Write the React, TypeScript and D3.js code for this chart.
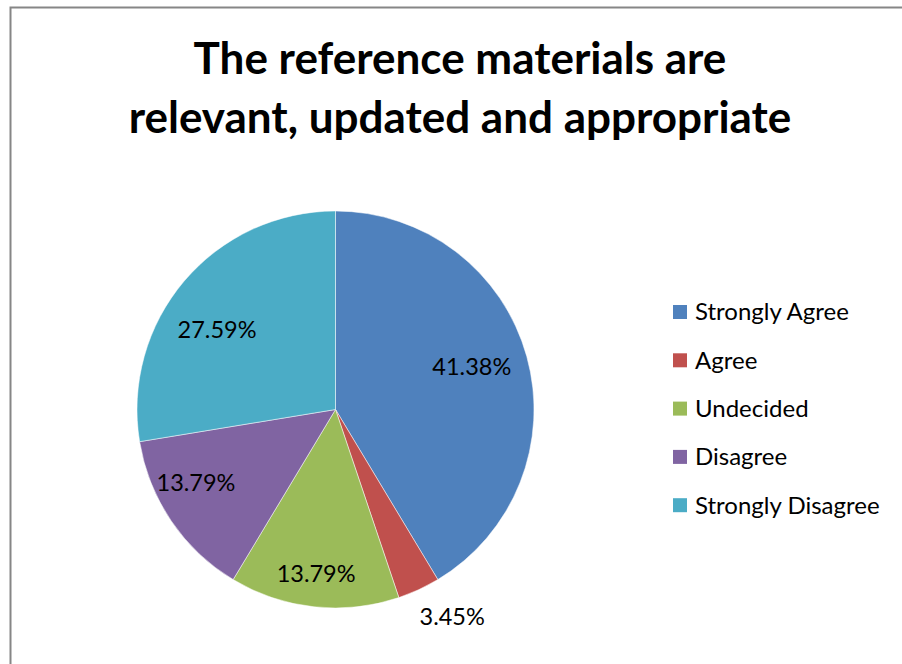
import { useEffect, useRef } from 'react';
import * as d3 from 'd3';

const categories = ['Strongly Agree', 'Agree', 'Undecided', 'Disagree', 'Strongly Disagree'];
const values = [41.38, 3.45, 13.79, 13.79, 27.59];
const colors = ['#4F81BD', '#C0504D', '#9BBB59', '#8064A2', '#4BACC6'];
const titleLines = ['The reference materials are', 'relevant, updated and appropriate'];

// Excel "best fit" label placement: distance as a share of the radius, and a small angle nudge (degrees)
const labelRadiusRatio = [0.72, 1.2, 0.835, 0.795, 0.72];
const labelAngleNudge = [-2, -4.5, 0.5, 6.3, -6.3];

const FONT = 'Lato, "Open Sans", sans-serif';

export default function App() {
  const ref = useRef<SVGSVGElement>(null);

  useEffect(() => {
    if (!ref.current) return;
    const svg = d3.select(ref.current);
    svg.selectAll('*').remove();

    const W = 902;
    const H = 664;
    const cx = 335.5;
    const cy = 409.5;
    const R = 198.5;

    svg.attr('width', W).attr('height', H).attr('viewBox', `0 0 ${W} ${H}`);

    svg.append('rect').attr('width', W).attr('height', H).attr('fill', '#fff');

    // chart frame
    svg.append('path')
      .attr('d', `M10.5,${H + 2}V7.5H${W + 2}`)
      .attr('fill', 'none')
      .attr('stroke', '#868686')
      .attr('stroke-width', 2);

    // title
    svg.append('g')
      .selectAll('text')
      .data(titleLines)
      .join('text')
      .attr('x', 460)
      .attr('y', (_, i) => 74 + i * 59)
      .attr('text-anchor', 'middle')
      .attr('font-family', FONT)
      .attr('font-weight', 'bold')
      .attr('font-size', 44)
      .attr('fill', '#000')
      .text((d) => d);

    const pie = d3.pie<number>().sort(null).value((d) => d);
    const arcs = pie(values);
    const arc = d3.arc<d3.PieArcDatum<number>>().innerRadius(0).outerRadius(R);

    const g = svg.append('g').attr('transform', `translate(${cx},${cy})`);

    g.selectAll('path')
      .data(arcs)
      .join('path')
      .attr('d', arc)
      .attr('fill', (_, i) => colors[i])
      .attr('stroke', '#fff')
      .attr('stroke-width', 0.5);

    g.selectAll('text')
      .data(arcs)
      .join('text')
      .attr('transform', (d, i) => {
        const a = (d.startAngle + d.endAngle) / 2 + (labelAngleNudge[i] * Math.PI) / 180;
        const r = R * labelRadiusRatio[i];
        return `translate(${r * Math.sin(a)},${-r * Math.cos(a)})`;
      })
      .attr('dy', '0.35em')
      .attr('text-anchor', 'middle')
      .attr('font-family', FONT)
      .attr('font-size', 23.5)
      .attr('fill', '#000')
      .text((d) => `${d.data.toFixed(2)}%`);

    // legend
    const legend = svg.append('g').attr('transform', 'translate(673,312)');
    const rows = legend.selectAll('g')
      .data(categories)
      .join('g')
      .attr('transform', (_, i) => `translate(0,${i * 48.3})`);

    rows.append('rect')
      .attr('x', 0)
      .attr('y', -7)
      .attr('width', 14)
      .attr('height', 14)
      .attr('fill', (_, i) => colors[i]);

    rows.append('text')
      .attr('x', 22)
      .attr('dy', '0.35em')
      .attr('font-family', FONT)
      .attr('font-size', 24)
      .attr('fill', '#000')
      .text((d) => d);
  }, []);

  return <svg ref={ref} style={{ display: 'block', position: 'absolute', left: 0, top: 0 }} />;
}
